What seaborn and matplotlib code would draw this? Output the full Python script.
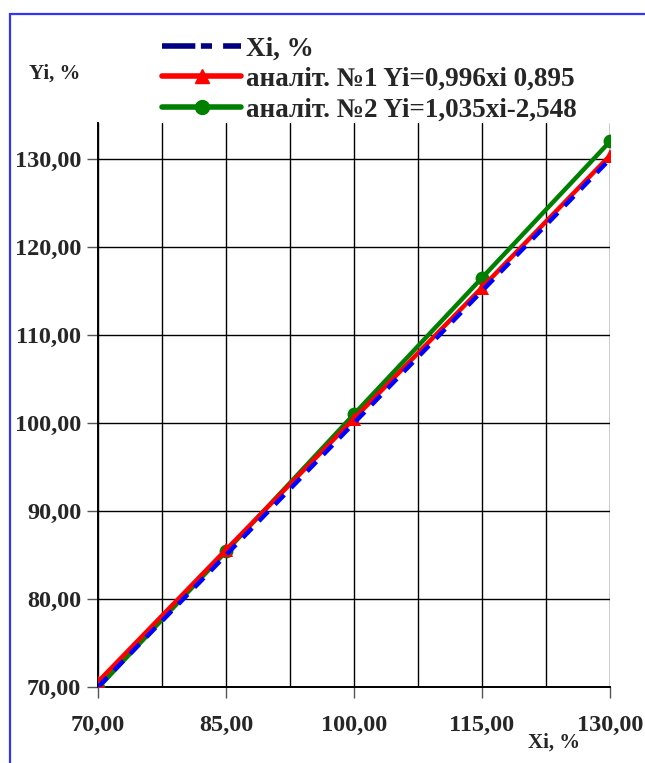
import numpy as np
import pandas as pd
import matplotlib
matplotlib.use("Agg")
import matplotlib.pyplot as plt
from matplotlib.lines import Line2D
from matplotlib.patches import Rectangle
from matplotlib.ticker import FixedLocator, FuncFormatter
import seaborn as sns

# Data
xi = [70.0, 85.0, 100.0, 115.0, 130.0]
y_ideal = [70.0, 85.0, 100.0, 115.0, 130.0]
y_an1 = [70.6, 85.6, 100.5, 115.4, 130.4]
y_an2 = [69.9, 85.4, 101.0, 116.5, 132.0]

labels = ["Xi, %", "аналіт. №1 Yi=0,996xi 0,895", "аналіт. №2 Yi=1,035xi-2,548"]

sns.set_style("white")
plt.rcParams["font.family"] = ["Liberation Serif", "DejaVu Serif"]
plt.rcParams["font.weight"] = "bold"

fig = plt.figure(figsize=(6.45, 7.63), dpi=100)
ax = fig.add_axes([98 / 645, 76 / 763, 512 / 645, 564 / 763])

# frame around the chart
fig.patches.append(Rectangle((10 / 645, -0.5), 1.2, 1.5 - 14 / 763, transform=fig.transFigure,
                             fill=False, edgecolor="#3333ff", linewidth=1.6, zorder=0))

df = pd.DataFrame({"x": xi, "ideal": y_ideal, "an1": y_an1, "an2": y_an2})

sns.lineplot(data=df, x="x", y="an2", ax=ax, color="#008000", linewidth=3.2,
             marker="o", markersize=10, markeredgewidth=0, zorder=3)
sns.lineplot(data=df, x="x", y="an1", ax=ax, color="#ff0000", linewidth=3.2,
             marker="^", markersize=10, markeredgewidth=0, zorder=4)
sns.lineplot(data=df, x="x", y="ideal", ax=ax, color="#0000ff", linewidth=3.2,
             zorder=5, dashes=False)
ax.lines[-1].set_linestyle((0, (3, 2.2)))

ax.set_xlim(70, 130)
ax.set_ylim(70, 134.1)
ax.xaxis.set_major_locator(FixedLocator([70, 85, 100, 115, 130]))
ax.xaxis.set_minor_locator(FixedLocator([77.5, 92.5, 107.5, 122.5]))
ax.yaxis.set_major_locator(FixedLocator([70, 80, 90, 100, 110, 120, 130]))
fmt = FuncFormatter(lambda v, p: f"{v:.2f}".replace(".", ","))
ax.xaxis.set_major_formatter(fmt)
ax.yaxis.set_major_formatter(fmt)

ax.grid(True, which="major", axis="both", color="black", linewidth=1.0)
ax.grid(True, which="minor", axis="x", color="black", linewidth=1.0)
ax.set_axisbelow(True)
ax.tick_params(axis="both", which="major", direction="out", length=8, width=1.0,
               color="#555555", labelsize=17.5, pad=12, left=True, bottom=True)
ax.tick_params(axis="x", which="minor", length=0)
ax.tick_params(axis="y", pad=4)
for lab in ax.get_xticklabels() + ax.get_yticklabels():
    lab.set_fontweight("bold")
for side in ["top", "right"]:
    ax.spines[side].set_visible(False)
for side in ["left", "bottom"]:
    ax.spines[side].set_color("black")
    ax.spines[side].set_linewidth(1.4)

ax.set_xlabel("")
ax.set_ylabel("")
fig.text(554 / 645, 1 - 743 / 763, "Xi, %", fontsize=15, fontweight="bold",
         ha="center", va="center")
fig.text(55 / 645, 1 - 74 / 763, "Yi, %", fontsize=15, fontweight="bold",
         ha="center", va="center")

handles = [
    Line2D([], [], color="#000080", linewidth=4, linestyle=(0, (6, 1, 2, 2))),
    Line2D([], [], color="#ff0000", linewidth=4, marker="^", markersize=10),
    Line2D([], [], color="#008000", linewidth=4, marker="o", markersize=10),
]
leg = fig.legend(handles, labels, loc="upper left",
                 bbox_to_anchor=(138 / 645, 1 - 12 / 763), frameon=False,
                 handlelength=2.9, handletextpad=0.2, labelspacing=0.2,
                 markerscale=1.0,
                 prop={"family": "Liberation Serif", "weight": "bold", "size": 19.5})

fig.savefig("out.png", dpi=100)
